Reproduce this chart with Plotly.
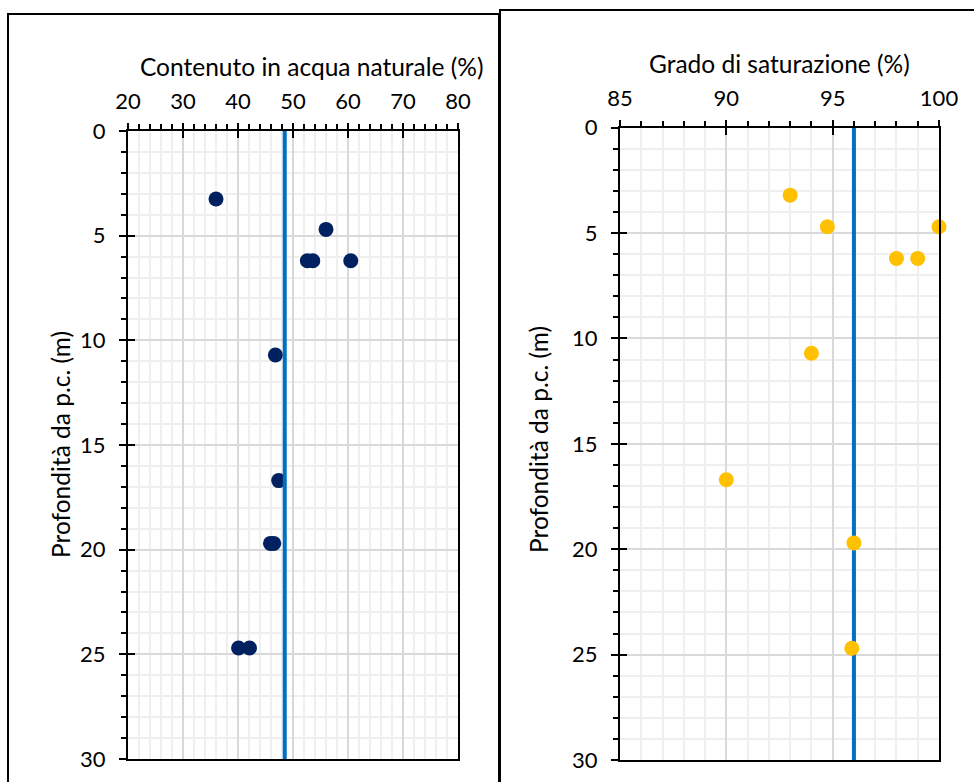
import plotly.graph_objects as go

# ---- data ----
w_depth = [3.25, 4.7, 6.2, 6.2, 6.2, 10.7, 16.7, 19.7, 19.7, 24.7, 24.7]
w_value = [36.0, 56.0, 52.6, 53.6, 60.5, 46.8, 47.4, 45.9, 46.5, 40.1, 42.1]
w_mean_depth = [0, 30]
w_mean_value = [48.5, 48.5]

s_depth = [3.2, 4.7, 4.7, 6.2, 6.2, 10.7, 16.7, 19.7, 24.7]
s_value = [93.0, 94.75, 100.0, 98.0, 99.0, 94.0, 90.0, 96.0, 95.9]
s_mean_depth = [0, 30]
s_mean_value = [96.0, 96.0]

x1_title = "Contenuto in acqua naturale (%)"
x2_title = "Grado di saturazione (%)"
y_title = "Profondità da p.c. (m)"

W, H = 974, 782
FONT = "Lato"
TICK_SIZE = 22
TITLE_SIZE = 24.5

def px_x(p):
    return p / W

def px_y(p):
    return 1 - p / H

fig = go.Figure()

# left chart
fig.add_trace(go.Scatter(x=w_value, y=w_depth, mode="markers", xaxis="x", yaxis="y",
                         marker=dict(size=15, color="#002060"), showlegend=False,
                         cliponaxis=False))
fig.add_trace(go.Scatter(x=w_mean_value, y=w_mean_depth, mode="lines", xaxis="x", yaxis="y",
                         line=dict(color="#0070c0", width=4), showlegend=False))
# right chart
fig.add_trace(go.Scatter(x=s_mean_value, y=s_mean_depth, mode="lines", xaxis="x2", yaxis="y2",
                         line=dict(color="#0070c0", width=4), showlegend=False))
fig.add_trace(go.Scatter(x=s_value, y=s_depth, mode="markers", xaxis="x2", yaxis="y2",
                         marker=dict(size=15, color="#ffc000"), showlegend=False,
                         cliponaxis=False))
# dummy traces for overlay axes (inner half of major ticks)
for xa, ya in [("x3", "y"), ("x", "y3"), ("x4", "y2"), ("x2", "y4")]:
    fig.add_trace(go.Scatter(x=[None], y=[None], xaxis=xa, yaxis=ya, showlegend=False,
                             hoverinfo="skip"))

left_dom = [px_x(128), px_x(458)]
left_ydom = [px_y(759), px_y(131)]
right_dom = [px_x(620), px_x(939)]
right_ydom = [px_y(760), px_y(127.7)]

tickfont = dict(family=FONT, size=TICK_SIZE, color="black")
MAJ_GRID = "#d9d9d9"
MIN_GRID = "#efefef"

def xaxis(dom, anchor, rng, dtick, mdtick):
    return dict(domain=dom, anchor=anchor, side="top", range=rng, autorange=False,
                dtick=dtick, tick0=rng[0], ticks="outside", ticklen=6, tickwidth=2,
                tickcolor="black", showline=True, linecolor="black", linewidth=2,
                mirror=True, showgrid=True, gridcolor=MAJ_GRID, gridwidth=1.5,
                zeroline=False, tickfont=tickfont, ticklabelstandoff=5,
                minor=dict(dtick=mdtick, tick0=rng[0], ticks="outside", ticklen=5,
                           tickwidth=1.5, tickcolor="black", showgrid=True,
                           gridcolor=MIN_GRID, gridwidth=1.5),
                fixedrange=True)

def yaxis(dom, anchor):
    return dict(domain=dom, anchor=anchor, range=[30, 0], autorange=False,
                dtick=5, tick0=0, ticks="outside", ticklen=7, tickwidth=2,
                tickcolor="black", showline=True, linecolor="black", linewidth=2,
                mirror=True, showgrid=True, gridcolor=MAJ_GRID, gridwidth=1.5,
                zeroline=False, tickfont=tickfont, ticklabelstandoff=9,
                minor=dict(dtick=1, tick0=0, ticks="outside", ticklen=5,
                           tickwidth=1.5, tickcolor="black", showgrid=True,
                           gridcolor=MIN_GRID, gridwidth=1.5),
                fixedrange=True)

def x_overlay(over, anchor, rng, dtick):
    return dict(overlaying=over, anchor=anchor, side="top", range=rng, autorange=False,
                dtick=dtick, tick0=rng[0], ticks="inside", ticklen=7, tickwidth=2,
                tickcolor="black", showline=False, showgrid=False, zeroline=False,
                showticklabels=False, fixedrange=True)

def y_overlay(over, anchor):
    return dict(overlaying=over, anchor=anchor, side="left", range=[30, 0], autorange=False,
                dtick=5, tick0=0, ticks="inside", ticklen=7, tickwidth=2,
                tickcolor="black", showline=False, showgrid=False, zeroline=False,
                showticklabels=False, fixedrange=True)

fig.update_layout(
    width=W, height=H,
    margin=dict(l=0, r=0, t=0, b=0, autoexpand=False),
    paper_bgcolor="white", plot_bgcolor="white",
    xaxis=xaxis(left_dom, "y", [20, 80], 10, 2),
    yaxis=yaxis(left_ydom, "x"),
    xaxis2=xaxis(right_dom, "y2", [85, 100], 5, 1),
    yaxis2=yaxis(right_ydom, "x2"),
    xaxis3=x_overlay("x", "y", [20, 80], 10),
    yaxis3=y_overlay("y", "x"),
    xaxis4=x_overlay("x2", "y2", [85, 100], 5),
    yaxis4=y_overlay("y2", "x2"),
    showlegend=False,
)

titlefont = dict(family=FONT, size=TITLE_SIZE, color="black")
fig.add_annotation(text=x1_title, x=px_x(311), y=px_y(67), xref="paper", yref="paper",
                   xanchor="center", yanchor="middle", showarrow=False, font=titlefont)
fig.add_annotation(text=x2_title, x=px_x(779.5), y=px_y(63), xref="paper", yref="paper",
                   xanchor="center", yanchor="middle", showarrow=False, font=titlefont)
fig.add_annotation(text=y_title, x=px_x(60), y=px_y(445), xref="paper", yref="paper",
                   xanchor="center", yanchor="middle", showarrow=False, font=titlefont,
                   textangle=-90)
fig.add_annotation(text=y_title, x=px_x(538), y=px_y(440), xref="paper", yref="paper",
                   xanchor="center", yanchor="middle", showarrow=False, font=titlefont,
                   textangle=-90)

# panel borders (chart-area frames)
fig.add_shape(type="rect", xref="paper", yref="paper", x0=px_x(8), x1=px_x(499),
              y0=-0.05, y1=px_y(14), line=dict(color="black", width=2), fillcolor="rgba(0,0,0,0)",
              layer="above")
fig.add_shape(type="rect", xref="paper", yref="paper", x0=px_x(500), x1=1.05,
              y0=-0.05, y1=px_y(10), line=dict(color="black", width=2), fillcolor="rgba(0,0,0,0)",
              layer="above")

fig.write_html("out.html")
